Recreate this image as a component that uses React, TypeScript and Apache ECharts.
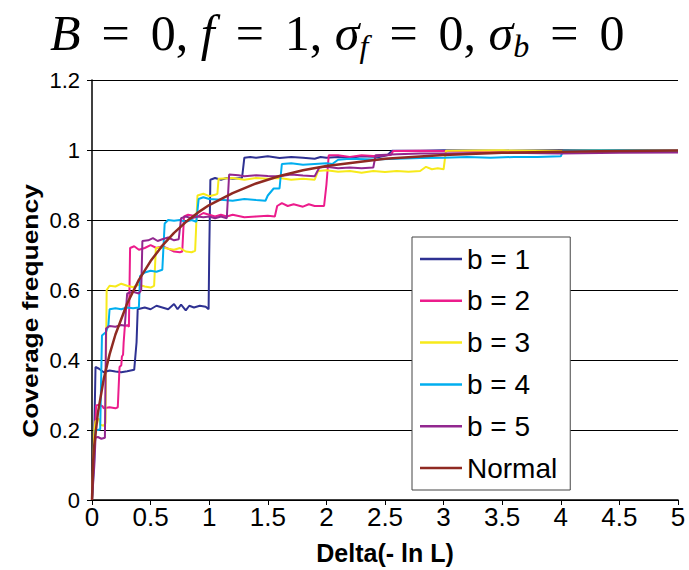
import { useEffect, useRef } from 'react';
import * as echarts from 'echarts';

const seriesNames = ['b = 1', 'b = 2', 'b = 3', 'b = 4', 'b = 5', 'Normal'];
const xTicks = ['0', '0.5', '1', '1.5', '2', '2.5', '3', '3.5', '4', '4.5', '5'];

const b1: [number, number][] = [
  [0, 0], [0.02, 0.2], [0.03, 0.38], [0.06, 0.375], [0.1, 0.365], [0.15, 0.37], [0.2, 0.367], [0.25, 0.365],
  [0.3, 0.368], [0.36, 0.372], [0.38, 0.45], [0.39, 0.545], [0.45, 0.55], [0.5, 0.545], [0.55, 0.555],
  [0.6, 0.55], [0.65, 0.545], [0.7, 0.56], [0.73, 0.545], [0.76, 0.558], [0.8, 0.542], [0.83, 0.555],
  [0.87, 0.55], [0.92, 0.555], [0.97, 0.552], [0.995, 0.545], [1.0, 0.7], [1.01, 0.915], [1.05, 0.92],
  [1.1, 0.915], [1.15, 0.92], [1.2, 0.918], [1.28, 0.92], [1.3, 0.978], [1.35, 0.98], [1.4, 0.978],
  [1.5, 0.982], [1.6, 0.977], [1.7, 0.98], [1.8, 0.978], [1.9, 0.975], [1.95, 0.98], [2.0, 0.978],
  [2.1, 0.98], [2.2, 0.978], [2.3, 0.982], [2.45, 0.98], [2.52, 0.985], [2.56, 0.998], [2.8, 0.998],
  [3.0, 0.999], [3.5, 0.998], [4.0, 1.0], [4.5, 0.999], [5.0, 0.998],
];

const b2: [number, number][] = [
  [0, 0], [0.02, 0.15], [0.035, 0.27], [0.06, 0.272], [0.09, 0.268], [0.1, 0.262], [0.15, 0.265],
  [0.2, 0.262], [0.22, 0.265], [0.235, 0.38], [0.25, 0.385], [0.255, 0.41], [0.265, 0.415], [0.27, 0.45],
  [0.28, 0.495], [0.3, 0.5], [0.315, 0.495], [0.325, 0.72], [0.36, 0.725], [0.4, 0.715], [0.45, 0.72],
  [0.5, 0.728], [0.55, 0.72], [0.6, 0.725], [0.65, 0.718], [0.7, 0.71], [0.75, 0.708], [0.77, 0.71],
  [0.785, 0.81], [0.82, 0.815], [0.9, 0.81], [0.95, 0.82], [1.0, 0.815], [1.05, 0.81], [1.1, 0.815],
  [1.15, 0.81], [1.2, 0.815], [1.3, 0.808], [1.4, 0.81], [1.5, 0.812], [1.56, 0.81], [1.58, 0.84],
  [1.62, 0.848], [1.67, 0.84], [1.72, 0.845], [1.8, 0.838], [1.85, 0.845], [1.9, 0.84], [1.98, 0.84],
  [2.0, 0.9], [2.02, 0.985], [2.1, 0.985], [2.2, 0.98], [2.3, 0.985], [2.4, 0.983], [2.5, 0.985],
  [2.55, 0.986], [2.57, 0.997], [2.8, 0.998], [3.0, 0.997], [3.5, 0.996], [4.0, 0.997], [4.5, 0.995],
  [5.0, 0.995],
];

const b3: [number, number][] = [
  [0, 0], [0.02, 0.2], [0.03, 0.225], [0.06, 0.232], [0.07, 0.215], [0.1, 0.212], [0.115, 0.22],
  [0.125, 0.6], [0.15, 0.612], [0.2, 0.61], [0.25, 0.618], [0.3, 0.612], [0.35, 0.608], [0.4, 0.615],
  [0.45, 0.61], [0.5, 0.607], [0.53, 0.612], [0.545, 0.72], [0.6, 0.722], [0.65, 0.718], [0.7, 0.715],
  [0.75, 0.72], [0.8, 0.71], [0.85, 0.708], [0.88, 0.712], [0.9, 0.87], [0.95, 0.875], [1.0, 0.868],
  [1.05, 0.872], [1.07, 0.875], [1.08, 0.918], [1.2, 0.92], [1.3, 0.915], [1.4, 0.92], [1.5, 0.918],
  [1.6, 0.92], [1.7, 0.915], [1.8, 0.918], [1.9, 0.915], [1.93, 0.94], [2.0, 0.942], [2.1, 0.938],
  [2.2, 0.94], [2.3, 0.935], [2.4, 0.94], [2.5, 0.937], [2.6, 0.94], [2.7, 0.938], [2.8, 0.94],
  [2.85, 0.952], [2.9, 0.945], [2.95, 0.948], [3.0, 0.945], [3.02, 0.998], [3.5, 0.999], [4.0, 0.998],
  [4.5, 0.999], [5.0, 0.998],
];

const b4: [number, number][] = [
  [0, 0], [0.02, 0.12], [0.03, 0.2], [0.05, 0.2], [0.07, 0.202], [0.085, 0.47], [0.12, 0.48],
  [0.14, 0.5], [0.15, 0.545], [0.2, 0.548], [0.25, 0.545], [0.3, 0.55], [0.35, 0.548], [0.4, 0.55],
  [0.41, 0.64], [0.45, 0.65], [0.5, 0.655], [0.55, 0.652], [0.6, 0.658], [0.62, 0.79], [0.65, 0.8],
  [0.7, 0.798], [0.75, 0.8], [0.8, 0.795], [0.85, 0.8], [0.89, 0.795], [0.91, 0.86], [0.95, 0.865],
  [1.0, 0.86], [1.1, 0.858], [1.2, 0.855], [1.3, 0.86], [1.4, 0.857], [1.48, 0.855], [1.5, 0.87],
  [1.55, 0.89], [1.6, 0.89], [1.62, 0.96], [1.7, 0.962], [1.8, 0.958], [1.9, 0.96], [2.0, 0.962],
  [2.05, 0.96], [2.1, 0.972], [2.2, 0.975], [2.4, 0.973], [2.6, 0.975], [2.8, 0.977], [3.0, 0.978],
  [3.2, 0.98], [3.4, 0.978], [3.6, 0.98], [3.8, 0.98], [4.0, 0.982], [4.02, 0.998], [4.5, 0.999],
  [5.0, 0.998],
];

const b5: [number, number][] = [
  [0, 0], [0.02, 0.1], [0.03, 0.178], [0.05, 0.18], [0.08, 0.175], [0.11, 0.178], [0.12, 0.49],
  [0.15, 0.497], [0.2, 0.495], [0.25, 0.5], [0.28, 0.498], [0.3, 0.59], [0.35, 0.595], [0.4, 0.59],
  [0.42, 0.6], [0.43, 0.74], [0.48, 0.742], [0.52, 0.748], [0.56, 0.74], [0.6, 0.745], [0.65, 0.75],
  [0.7, 0.742], [0.74, 0.745], [0.76, 0.805], [0.8, 0.81], [0.85, 0.805], [0.9, 0.81], [0.95, 0.808],
  [1.0, 0.81], [1.05, 0.805], [1.1, 0.81], [1.15, 0.805], [1.17, 0.93], [1.25, 0.928], [1.3, 0.925],
  [1.4, 0.928], [1.5, 0.926], [1.6, 0.925], [1.7, 0.93], [1.8, 0.927], [1.9, 0.925], [1.94, 0.95],
  [2.0, 0.952], [2.1, 0.948], [2.2, 0.95], [2.3, 0.948], [2.4, 0.95], [2.42, 0.985], [2.6, 0.988],
  [2.8, 0.99], [3.0, 0.99], [3.5, 0.992], [4.0, 0.99], [4.5, 0.992], [5.0, 0.993],
];

const normal: [number, number][] = [
  [0, 0], [0.01, 0.1125], [0.02, 0.1585], [0.05, 0.2482], [0.1, 0.3453], [0.15, 0.4161], [0.2, 0.4729],
  [0.3, 0.5614], [0.4, 0.6289], [0.5, 0.6827], [0.6, 0.7266], [0.7, 0.7633], [0.8, 0.7941],
  [0.9, 0.8203], [1.0, 0.8427], [1.2, 0.8767], [1.4, 0.9044], [1.6, 0.9258], [1.8, 0.9422],
  [2.0, 0.9545], [2.5, 0.9747], [3.0, 0.9857], [3.5, 0.9918], [4.0, 0.9953], [4.5, 0.9973], [5.0, 0.9984],
];

const seriesData = [b1, b2, b3, b4, b5, normal];
const colors = ['#2e3192', '#ec1c8c', '#f7ea1a', '#00aeef', '#92278f', '#8f2a22'];

export default function App() {
  const ref = useRef<HTMLDivElement>(null);
  useEffect(() => {
    if (!ref.current) return;
    const chart = echarts.init(ref.current, null, { renderer: 'svg' });
    const serif = 'Liberation Serif';
    chart.setOption({
      animation: false,
      backgroundColor: '#ffffff',
      grid: { left: 92, right: 11, top: 80, bottom: 64, containLabel: false },
      graphic: [
        {
          type: 'text',
          left: 50,
          top: 4,
          style: {
            text: '{i|B}{e|=}{n|0, }{i|f}{e|=}{n|1, }{i|σ}{s|f}{e|=}{n|0, }{i|σ}{s|b}{e|=}{n|0}',
            rich: {
              i: { fontFamily: serif, fontStyle: 'italic', fontSize: 50, lineHeight: 50, fill: '#000' },
              n: { fontFamily: serif, fontSize: 50, lineHeight: 50, fill: '#000' },
              e: { fontFamily: serif, fontSize: 50, lineHeight: 50, fill: '#000', padding: [0, 21, 0, 21] },
              s: { fontFamily: serif, fontStyle: 'italic', fontSize: 32, lineHeight: 24, fill: '#000', padding: [26, 0, 0, 0] },
            },
          },
        },
        {
          type: 'text',
          x: 30,
          y: 311,
          rotation: Math.PI / 2,
          scaleX: 1.2,
          style: {
            text: 'Coverage frequency',
            fontFamily: 'Liberation Sans',
            fontWeight: 'bold',
            fontSize: 22,
            fill: '#000',
            align: 'center',
            verticalAlign: 'middle',
          },
        },
      ],
      legend: {
        orient: 'vertical',
        left: 412,
        top: 237,
        data: seriesNames,
        icon: 'rect',
        backgroundColor: '#fff',
        borderColor: '#444',
        borderWidth: 1,
        borderRadius: 0,
        padding: [7, 13, 7, 8],
        itemWidth: 42,
        itemHeight: 2.5,
        itemGap: 11.8,
        textStyle: { fontFamily: 'Liberation Sans', fontSize: 28, color: '#000', lineHeight: 30 },
      },
      xAxis: {
        type: 'value',
        min: 0,
        max: 5,
        interval: 0.5,
        name: 'Delta(- ln L)',
        nameLocation: 'middle',
        nameGap: 40,
        nameTextStyle: { fontFamily: 'Liberation Sans', fontWeight: 'bold', fontSize: 25, color: '#000' },
        axisLine: { show: true, lineStyle: { color: '#000', width: 1.5 } },
        axisTick: { show: true, length: 5, lineStyle: { color: '#000' } },
        splitLine: { show: false },
        axisLabel: {
          fontFamily: 'Liberation Sans',
          fontSize: 26,
          color: '#000',
          margin: 4,
          formatter: (v: number) => xTicks[Math.round(v / 0.5)] ?? String(v),
        },
      },
      yAxis: {
        type: 'value',
        min: 0,
        max: 1.2,
        interval: 0.2,
        axisLine: { show: true, lineStyle: { color: '#000', width: 1.5 } },
        axisTick: { show: true, length: 5, lineStyle: { color: '#000' } },
        splitLine: { show: true, lineStyle: { color: '#000', width: 1.2 } },
        axisLabel: {
          fontFamily: 'Liberation Sans',
          fontSize: 22,
          color: '#000',
          margin: 12,
          formatter: (v: number) => String(Math.round(v * 10) / 10),
        },
      },
      series: seriesData.map((d, i) => ({
        name: seriesNames[i],
        type: 'line',
        data: d,
        symbol: 'none',
        showSymbol: false,
        color: colors[i],
        lineStyle: { color: colors[i], width: i === 5 ? 2.5 : 2 },
        z: i === 5 ? 5 : 2,
      })),
    });
    return () => chart.dispose();
  }, []);
  return <div ref={ref} style={{ position: 'fixed', left: 0, top: 0, width: 689, height: 570 }} />;
}
